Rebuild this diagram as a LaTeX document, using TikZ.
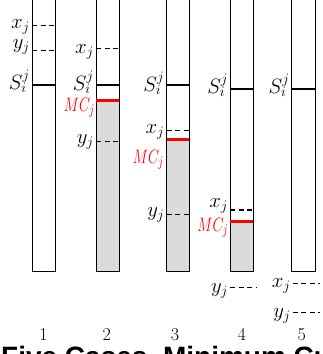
\documentclass[tikz,border=0pt]{standalone}
\usepackage{graphicx}
\usepackage{fontspec}
\newfontfamily\titlefont{Liberation Sans}
\newcommand{\mctext}{\scalebox{1}[1.35]{$MC_j$}}
\begin{document}
\begin{tikzpicture}[x=1pt,y=-1pt,
  bar/.style={draw=black, line width=0.9pt},
  shade/.style={fill=black!14},
  cutline/.style={line width=2.2pt},
  mcline/.style={red, line width=3pt},
  dsh/.style={line width=1.2pt, dash pattern=on 5pt off 3.5pt},
  lab/.style={anchor=base east, inner sep=1pt, font=\fontsize{20}{24}\selectfont},
  mclab/.style={anchor=base east, inner sep=0pt, text=red, font=\fontsize{15}{18}\selectfont},
  num/.style={anchor=base, font=\fontsize{18}{21}\selectfont, inner sep=0pt}]
\useasboundingbox (0,0) rectangle (323,354);
% shaded regions
\fill[shade] (96,100.7) rectangle (119,271.7);
\fill[shade] (166.7,139.3) rectangle (189.3,271.7);
\fill[shade] (230.3,221.7) rectangle (253.3,271.7);
% bars
\draw[bar] (32,-5) rectangle (55,271.7);
\draw[bar] (96,-5) rectangle (119,271.7);
\draw[bar] (166.7,-5) rectangle (189.3,271.7);
\draw[bar] (230.3,-5) rectangle (253.3,271.7);
\draw[bar] (291.7,-5) rectangle (315.3,271.7);
% case 1
\draw[dsh] (32,25.3) -- (55,25.3);
\draw[dsh] (32,50.7) -- (55,50.7);
\draw[cutline] (32,85) -- (55,85);
\node[lab] (x1) at (31,28.3) {$x_j$};
\node[lab] (y1) at (31,48.6) {$y_j$};
\node[lab] (s1) at (31,89) {$S_i^j$};
% case 2
\draw[dsh] (96,48.3) -- (119,48.3);
\draw[cutline] (96,85) -- (119,85);
\draw[mcline] (96,100.7) -- (119,100.7);
\draw[dsh] (96,141.7) -- (119,141.7);
\node[lab] (x2) at (95,53) {$x_j$};
\node[lab] (s2) at (95,90) {$S_i^j$};
\node[mclab] (m2) at (95,111.5) {\mctext};
\node[lab] (y2) at (95,143.6) {$y_j$};
% case 3
\draw[cutline] (166.7,85) -- (189.3,85);
\draw[dsh] (166.7,130.7) -- (189.3,130.7);
\draw[mcline] (166.7,139.3) -- (189.3,139.3);
\draw[dsh] (166.7,214.3) -- (189.3,214.3);
\node[lab] (s3) at (165.5,91) {$S_i^j$};
\node[lab] (x3) at (165.5,133) {$x_j$};
\node[mclab] (m3) at (164,163) {\mctext};
\node[lab] (y3) at (165.5,216) {$y_j$};
% case 4
\draw[cutline] (230.3,89.3) -- (253.3,89.3);
\draw[dsh] (230.3,210) -- (253.3,210);
\draw[mcline] (230.3,221.7) -- (253.3,221.7);
\draw[dsh] (230.3,287.3) -- (257,287.3);
\node[lab] (s4) at (229.3,93) {$S_i^j$};
\node[lab] (x4) at (229.3,207) {$x_j$};
\node[mclab] (m4) at (228.5,231.5) {\mctext};
\node[lab] (y4) at (229.3,292) {$y_j$};
% case 5
\draw[cutline] (291.7,89.3) -- (315.3,89.3);
\draw[dsh] (292.7,283.3) -- (320,283.3);
\draw[dsh] (292.7,312.7) -- (320,312.7);
\node[lab] (s5) at (290.7,93) {$S_i^j$};
\node[lab] (x5) at (291.7,287) {$x_j$};
\node[lab] (y5) at (291.7,317) {$y_j$};
% case numbers
\node[num] (n1) at (43.5,340) {1};
\node[num] (n2) at (106.7,340) {2};
\node[num] (n3) at (175,340) {3};
\node[num] (n4) at (241.7,340) {4};
\node[num] (n5) at (301.7,340) {5};
% title (cut off at the bottom)
\node[anchor=base west, inner sep=0pt, font=\titlefont\bfseries\fontsize{28}{31}\selectfont] (title) at (1,366) {Five Cases, Minimum Cut};
\end{tikzpicture}
\end{document}
